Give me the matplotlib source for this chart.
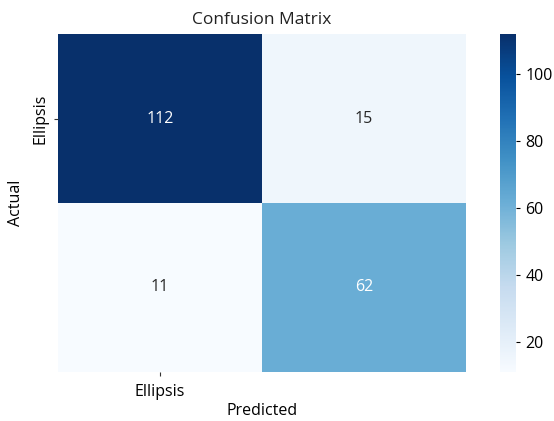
import numpy as np
import matplotlib
matplotlib.use('Agg')
import matplotlib.pyplot as plt
import seaborn as sns

plt.rcParams['font.family'] = ['Open Sans', 'DejaVu Sans']

labels = ['Ellipsis']
cm = np.array([[112, 15],
               [11, 62]])

fig = plt.figure(figsize=(5.54, 4.21), dpi=100)
ax = fig.add_axes([0.105, 0.117, 0.736, 0.802])
cax = fig.add_axes([0.903, 0.117, 0.029, 0.802])

sns.heatmap(cm, annot=True, fmt='d', cmap='Blues', ax=ax, cbar_ax=cax,
            annot_kws={'fontsize': 11.5}, xticklabels=False, yticklabels=False)

ax.set_xticks([0.5])
ax.set_xticklabels(labels, fontsize=11.5)
ax.set_yticks([0.5])
ax.set_yticklabels(labels, fontsize=11.5, rotation=90, va='center')
ax.tick_params(length=3, width=0.8, color='#333333', pad=4)
ax.tick_params(axis='x', pad=6)

ax.set_title('Confusion Matrix', fontsize=12.5, color='#222222', pad=7)
ax.set_xlabel('Predicted', fontsize=11.5, labelpad=2)
ax.set_ylabel('Actual', fontsize=11.5, labelpad=6)

cax.tick_params(labelsize=11.5, length=3, width=0.8)
cax.yaxis.set_major_locator(matplotlib.ticker.MultipleLocator(20))

fig.savefig('out.png', dpi=100)
